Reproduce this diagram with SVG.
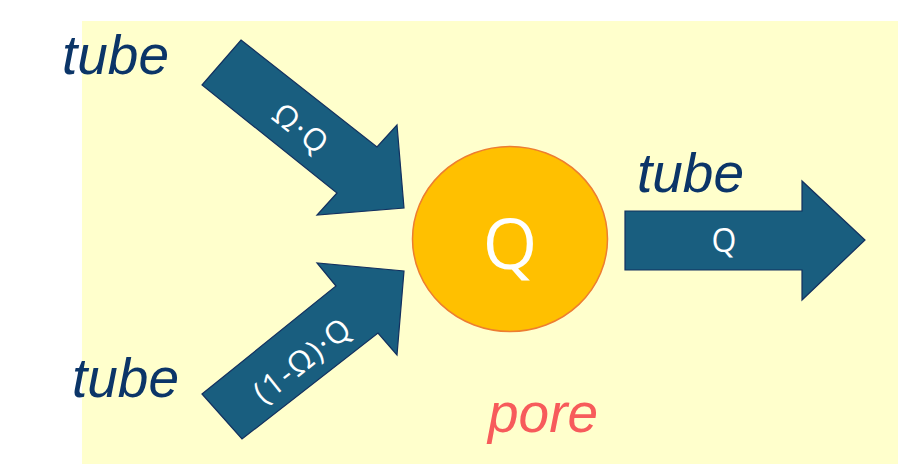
<svg xmlns="http://www.w3.org/2000/svg" width="900" height="464" viewBox="0 0 900 464">
<style>
.arrow{fill:#195e7f;stroke:#12305f;stroke-width:1.2;stroke-linejoin:miter}
.tube{font-family:"Liberation Sans",Arial,sans-serif;font-style:italic;font-size:55px;fill:#0b3568}
.lbl{font-family:"Open Sans","Liberation Sans",sans-serif;fill:#ffffff;text-anchor:middle;dominant-baseline:central}
.sp{letter-spacing:2px}
</style>
<rect x="0" y="0" width="900" height="464" fill="#ffffff"/>
<rect id="pore-area" x="82" y="21" width="816" height="443" fill="#ffffcc"/>
<g id="labels">
<text class="tube" x="62" y="74">tube</text>
<text class="tube" x="72" y="397">tube</text>
<text class="tube" x="637" y="192">tube</text>
<text x="488" y="432" font-family="Liberation Sans,Arial,sans-serif" font-style="italic" font-size="55" fill="#f75b5b">pore</text>
</g>
<g id="connectors">
<g id="arrow-in-top">
<polygon class="arrow" points="241,40 377,147 397,125 404,208 317,215 337,193 202,85"/>
<text class="lbl sp" font-size="31" transform="translate(302,128) rotate(38.6)">Ω·Q</text>
</g>
<g id="arrow-in-bottom">
<polygon class="arrow" points="202,394 336,286 317,263 404,271 397,355 378,333 242,439"/>
<text class="lbl sp" font-size="31" transform="translate(302,359) rotate(-38.6)">(1-Ω)·Q</text>
</g>
<g id="arrow-out">
<polygon class="arrow" points="625,211 802,211 802,181 865,240 802,300 802,270 625,270"/>
<text class="lbl" font-size="32" x="724" y="239">Q</text>
</g>
</g>
<g id="node-pore">
<ellipse cx="510" cy="239" rx="97.5" ry="92.5" fill="#ffc000" stroke="#ed7d31" stroke-width="1.5"/>
<text class="lbl" font-size="70" x="510" y="242">Q</text>
</g>
</svg>
